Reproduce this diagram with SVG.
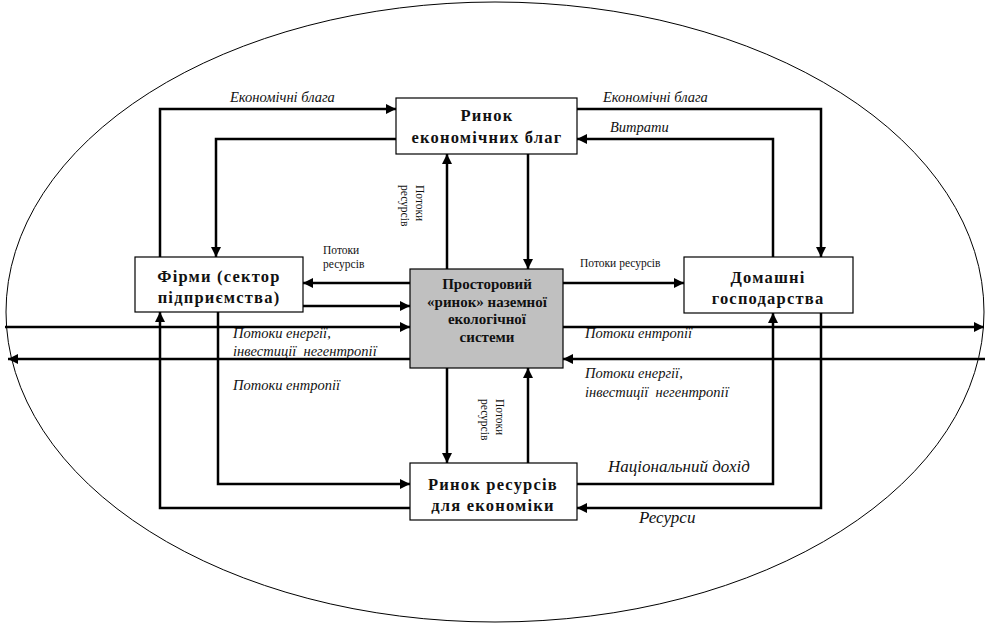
<svg xmlns="http://www.w3.org/2000/svg" width="986" height="625" viewBox="0 0 986 625">
<defs>
<marker id="a" viewBox="0 0 10 10" refX="10" refY="5" markerWidth="11" markerHeight="10" markerUnits="userSpaceOnUse" orient="auto"><path d="M0,0 L10,5 L0,10 z" fill="#000"/></marker>
</defs>
<style>
text{font-family:'Liberation Serif','DejaVu Serif',serif;fill:#111}
.box{fill:#fff;stroke:#000;stroke-width:1.2}
.grey{fill:#c0c0c0;stroke:#000;stroke-width:1.2}
.t{font-weight:bold;font-size:16.5px;text-anchor:middle;letter-spacing:1.2px}
.tc{font-weight:bold;font-size:15px;text-anchor:middle}
.l{font-style:italic;font-size:14.5px}
.lb{font-style:italic;font-size:17px}
.s{font-size:11.5px}
#conn path{fill:none;stroke:#000;stroke-width:2.5;marker-end:url(#a)}
</style>
<rect width="986" height="625" fill="#fff"/>
<ellipse cx="495" cy="312" rx="489" ry="310" fill="none" stroke="#000" stroke-width="1"/>
<g id="conn">
<path d="M160,257 V109 H396"/>
<path d="M396,139 H216 V257"/>
<path d="M577,109 H821 V257"/>
<path d="M773,257 V139 H577"/>
<path d="M447,269 V154"/>
<path d="M528,154 V269"/>
<path d="M410,283 H303"/>
<path d="M303,306 H410"/>
<path d="M5,327 H410"/>
<path d="M563,327 H984"/>
<path d="M985,359 H563"/>
<path d="M410,359 H8"/>
<path d="M563,283 H684"/>
<path d="M447,368 V463"/>
<path d="M528,463 V368"/>
<path d="M218,312 V484 H410"/>
<path d="M410,508 H160 V312"/>
<path d="M577,484 H773 V313"/>
<path d="M821,313 V508 H577"/>
</g>
<g id="labels">
<text class="l" x="230" y="102">Економічні блага</text>
<text class="l" x="603" y="102">Економічні блага</text>
<text class="l" x="610" y="132">Витрати</text>
<text class="s" x="323" y="254">Потоки</text>
<text class="s" x="323" y="268">ресурсів</text>
<text class="s" x="580" y="267">Потоки ресурсів</text>
<text class="l" x="233" y="338">Потоки енергії,</text>
<text class="l" x="233" y="356" xml:space="preserve">інвестиції  негентропії</text>
<text class="l" x="233" y="390">Потоки ентропії</text>
<text class="l" x="585" y="338">Потоки ентропії</text>
<text class="l" x="585" y="378">Потоки енергії,</text>
<text class="l" x="585" y="397" xml:space="preserve">інвестиції  негентропії</text>
<text class="lb" x="608" y="472">Національний дохід</text>
<text class="lb" x="639" y="523">Ресурси</text>
<g transform="translate(416,185) rotate(90)"><text class="s" x="0" y="0">Потоки</text><text class="s" x="0" y="15">ресурсів</text></g>
<g transform="translate(496,399) rotate(90)"><text class="s" x="0" y="0">Потоки</text><text class="s" x="0" y="15">ресурсів</text></g>
</g>
<g id="market-goods"><rect class="box" x="396" y="98" width="181" height="56"/><text class="t" x="487" y="121">Ринок</text><text class="t" x="487" y="143">економічних благ</text></g>
<g id="firms"><rect class="box" x="135" y="257" width="168" height="55"/><text class="t" x="219" y="282">Фірми (сектор</text><text class="t" x="219" y="303">підприємства)</text></g>
<g id="ecosystem"><rect class="grey" x="410" y="269" width="153" height="99"/><text class="tc" x="487" y="289">Просторовий</text><text class="tc" x="487" y="307">«ринок» наземної</text><text class="tc" x="487" y="324">екологічної</text><text class="tc" x="487" y="342">системи</text></g>
<g id="households"><rect class="box" x="684" y="257" width="169" height="56"/><text class="t" x="768" y="283">Домашні</text><text class="t" x="768" y="304">господарства</text></g>
<g id="market-resources"><rect class="box" x="410" y="463" width="167" height="57"/><text class="t" x="493" y="490">Ринок ресурсів</text><text class="t" x="493" y="511">для економіки</text></g>
</svg>
